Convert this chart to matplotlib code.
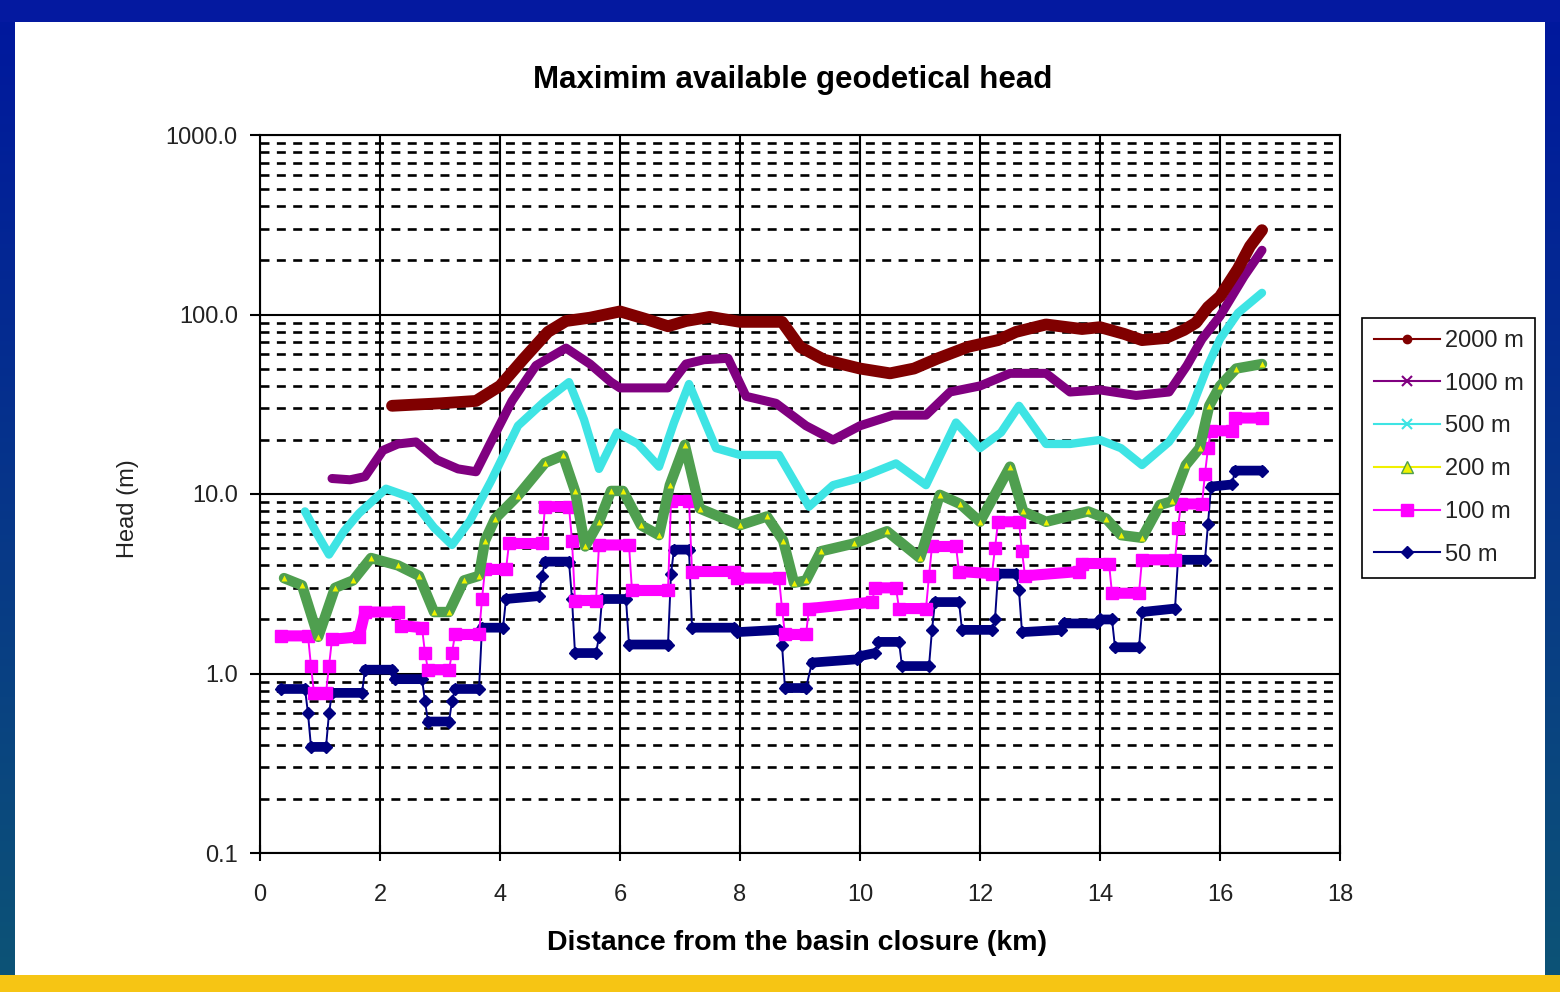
import numpy as np
import matplotlib
matplotlib.use("Agg")
import matplotlib.pyplot as plt
from matplotlib.lines import Line2D
from matplotlib.patches import Rectangle
from matplotlib.ticker import LogLocator, NullFormatter

plt.rcParams['font.family'] = ['Liberation Sans', 'DejaVu Sans']

# ---- text -------------------------------------------------------------
title = "Maximim available geodetical head"
x_label = "Distance from the basin closure (km)"
y_label = "Head (m)"
series_names = ["2000 m", "1000 m", "500 m", "200 m", "100 m", "50 m"]
x_ticks = [0, 2, 4, 6, 8, 10, 12, 14, 16, 18]
y_ticks = [0.1, 1, 10, 100, 1000]
y_tick_labels = ["0.1", "1.0", "10.0", "100.0", "1000.0"]

# ---- series (distance in km, head in m) -------------------------------
x_2000 = [2.2, 2.6, 3.0, 3.6, 4.0, 4.4, 4.8, 5.1, 5.5, 6.0, 6.4, 6.8, 7.1, 7.5,
          8.0, 8.7, 9.0, 9.4, 10.0, 10.5, 10.9, 11.3, 11.8, 12.3, 12.6, 13.1,
          13.7, 14.0, 14.4, 14.7, 15.1, 15.4, 15.6, 15.8, 16.0, 16.3, 16.5, 16.7]
h_2000 = [31, 31.5, 32, 33, 40, 57, 80, 92, 96, 104, 95, 86, 92, 97,
          91, 91, 66, 56, 50, 47, 50, 57, 66, 72, 80, 88,
          83, 85, 78, 72, 74, 82, 90, 110, 126, 180, 240, 295]

x_1000 = [1.2, 1.5, 1.75, 2.05, 2.3, 2.6, 2.95, 3.3, 3.6, 3.85, 4.2, 4.6, 5.1,
          5.5, 5.85, 6.0, 6.4, 6.8, 7.1, 7.4, 7.8, 8.1, 8.6, 9.1, 9.55, 10.0,
          10.55, 11.1, 11.5, 12.0, 12.5, 13.1, 13.5, 14.0, 14.6, 15.15, 15.45,
          15.7, 16.0, 16.4, 16.7]
h_1000 = [12.2, 12, 12.5, 17.5, 19, 19.5, 15.5, 13.8, 13.3, 19.5, 33, 52, 65,
          53, 42, 39, 39, 39, 53, 56, 57, 35, 32, 24, 20, 24,
          27.5, 27.5, 37, 40, 47, 47, 37, 38, 35.4, 37, 52,
          73, 98, 163, 228]

x_500 = [0.75, 0.95, 1.15, 1.4, 1.65, 2.1, 2.5, 2.9, 3.2, 3.5, 3.85, 4.3, 4.75,
         5.15, 5.4, 5.65, 5.95, 6.3, 6.65, 6.9, 7.15, 7.6, 8.0, 8.65, 9.15, 9.55,
         10.0, 10.6, 11.1, 11.6, 12.0, 12.35, 12.65, 13.1, 13.5, 14.0, 14.35,
         14.7, 15.15, 15.5, 15.8, 16.0, 16.3, 16.7]
h_500 = [8.0, 6.0, 4.6, 6.2, 7.8, 10.7, 9.6, 6.5, 5.2, 7.1, 11.8, 24, 33,
         42, 26, 13.8, 22, 19, 14.2, 25, 41, 18, 16.5, 16.5, 8.5, 11.2,
         12.3, 14.8, 11.2, 25, 18, 22, 31, 19, 19, 20, 18,
         14.5, 19.5, 28.6, 52, 73, 102, 132]

x_200 = [0.4, 0.7, 0.97, 1.25, 1.55, 1.85, 2.3, 2.65, 2.9, 3.15, 3.4, 3.65, 3.75,
         3.92, 4.3, 4.75, 5.05, 5.25, 5.42, 5.65, 5.85, 6.05, 6.35, 6.65, 6.83,
         7.08, 7.33, 8.0, 8.45, 8.72, 8.9, 9.1, 9.35, 9.9, 10.45, 11.0, 11.33,
         11.67, 12.0, 12.5, 12.72, 13.1, 13.8, 14.1, 14.35, 14.7, 15.0, 15.2,
         15.43, 15.66, 15.82, 16.0, 16.27, 16.7]
h_200 = [3.4, 3.1, 1.6, 3.0, 3.3, 4.4, 4.0, 3.5, 2.2, 2.2, 3.3, 3.5, 5.5,
         7.3, 9.8, 14.9, 16.4, 10.4, 5.1, 7.0, 10.4, 10.4, 6.7, 5.9, 11.2,
         18.8, 8.3, 6.7, 7.5, 5.5, 3.2, 3.3, 4.8, 5.3, 6.2, 4.4, 9.9,
         8.8, 7.0, 14.2, 8.0, 7.0, 8.0, 7.3, 5.9, 5.7, 8.7, 9.1,
         14.5, 18, 31, 40, 50, 53]

x_100 = [0.35, 0.8, 0.85, 0.9, 1.1, 1.15, 1.2, 1.65, 1.75, 2.3, 2.35, 2.7, 2.75,
         2.8, 3.15, 3.2, 3.25, 3.65, 3.7, 3.75, 4.1, 4.15, 4.7, 4.75, 5.15, 5.2,
         5.25, 5.6, 5.65, 6.15, 6.2, 6.8, 6.85, 7.15, 7.2, 7.9, 7.95, 8.65, 8.7,
         8.75, 9.1, 9.15, 10.2, 10.25, 10.6, 10.65, 11.1, 11.15, 11.2, 11.6,
         11.65, 12.2, 12.25, 12.3, 12.65, 12.7, 12.75, 13.65, 13.7, 14.15, 14.2,
         14.65, 14.7, 15.25, 15.3, 15.35, 15.7, 15.75, 15.8, 15.85, 16.2, 16.25,
         16.7]
h_100 = [1.62, 1.62, 1.1, 0.78, 0.78, 1.1, 1.55, 1.6, 2.2, 2.2, 1.85, 1.8, 1.3,
         1.05, 1.05, 1.3, 1.65, 1.65, 2.6, 3.8, 3.8, 5.3, 5.3, 8.5, 8.5, 5.5,
         2.55, 2.55, 5.2, 5.2, 2.9, 2.9, 9.2, 9.2, 3.7, 3.7, 3.4, 3.4, 2.3,
         1.65, 1.65, 2.3, 2.5, 3.0, 3.0, 2.3, 2.3, 3.5, 5.1, 5.1,
         3.7, 3.6, 5.0, 7.0, 7.0, 4.8, 3.5, 3.7, 4.1, 4.1, 2.8,
         2.8, 4.3, 4.3, 6.5, 8.8, 8.8, 13, 18, 22.5, 22.5, 26.5,
         26.5]

x_50 = [0.35, 0.75, 0.8, 0.85, 1.1, 1.15, 1.2, 1.7, 1.75, 2.2, 2.25, 2.7, 2.75,
        2.8, 3.15, 3.2, 3.25, 3.65, 3.7, 4.05, 4.1, 4.65, 4.7, 4.75, 5.15, 5.2,
        5.25, 5.6, 5.65, 5.7, 6.1, 6.15, 6.8, 6.85, 6.9, 7.15, 7.2, 7.9, 7.95,
        8.65, 8.7, 8.75, 9.1, 9.2, 9.95, 10.0, 10.25, 10.3, 10.65, 10.7, 11.15,
        11.2, 11.25, 11.65, 11.7, 12.2, 12.25, 12.3, 12.6, 12.65, 12.7, 13.35,
        13.4, 13.95, 14.0, 14.2, 14.25, 14.65, 14.7, 15.25, 15.3, 15.75, 15.8,
        15.85, 16.2, 16.25, 16.7]
h_50 = [0.82, 0.82, 0.6, 0.39, 0.39, 0.6, 0.78, 0.78, 1.05, 1.05, 0.93, 0.93, 0.7,
        0.54, 0.54, 0.7, 0.82, 0.82, 1.8, 1.8, 2.6, 2.7, 3.5, 4.2, 4.2, 2.6,
        1.3, 1.3, 1.6, 2.6, 2.6, 1.45, 1.45, 3.6, 4.9, 4.9, 1.8, 1.8, 1.7,
        1.75, 1.45, 0.83, 0.83, 1.15, 1.2, 1.25, 1.3, 1.5, 1.5, 1.1, 1.1,
        1.75, 2.5, 2.5, 1.75, 1.75, 2.0, 3.6, 3.6, 2.9, 1.7, 1.75,
        1.9, 1.9, 2.0, 2.0, 1.4, 1.4, 2.2, 2.3, 4.3, 4.3, 6.8,
        11, 11.3, 13.5, 13.5]

# ---- colours ------------------------------------------------------------
c_2000 = "#800000"
c_1000 = "#800080"
c_500 = "#3ee4e4"
c_200_line = "#4f9f4f"
c_200_face = "#eef200"
c_100 = "#ff00ff"
c_50 = "#000080"


def plateaus(x, y, min_dx=0.1):
    """Return the long, flat runs of a stepped series, separated by NaN."""
    xs, ys = [], []
    for i in range(len(x) - 1):
        if x[i + 1] - x[i] > min_dx:
            xs += [x[i], x[i + 1], np.nan]
            ys += [y[i], y[i + 1], np.nan]
    return np.array(xs, float), np.array(ys, float)


W, H = 1560, 992
fig = plt.figure(figsize=(W / 100, H / 100), dpi=100)

# slide background: blue frame, white panel, yellow strip
bg = fig.add_axes([0, 0, 1, 1], zorder=-10)
top_c = np.array([0.0, 0.09, 0.62])
bot_c = np.array([0.05, 0.33, 0.46])
t = np.linspace(0, 1, 256)[:, None]
grad = (top_c[None, :] * (1 - t) + bot_c[None, :] * t)[:, None, :]
bg.imshow(grad, aspect="auto", extent=[0, 1, 0, 1], origin="upper")
bg.set_xlim(0, 1)
bg.set_ylim(0, 1)
bg.axis("off")
fig.patches.append(Rectangle((0, 1 - 22 / H), 1, 22 / H, transform=fig.transFigure,
                             facecolor="#0419a0", edgecolor="none", zorder=-5))
fig.patches.append(Rectangle((15 / W, 1 - 975 / H), 1530 / W, 953 / H,
                             transform=fig.transFigure, facecolor="white",
                             edgecolor="none", zorder=-5))
fig.patches.append(Rectangle((0, 0), 1, 17 / H, transform=fig.transFigure,
                             facecolor="#f6c514", edgecolor="none", zorder=-5))

ax = fig.add_axes([260 / W, 1 - 853 / H, 1080 / W, 718 / H])
ax.set_facecolor("white")
ax.set_yscale("log")
ax.set_xlim(0, 18)
ax.set_ylim(0.1, 1000)

# grid
ax.set_axisbelow(True)
ax.grid(which="major", axis="both", color="black", lw=1.5, ls="-")
ax.yaxis.set_minor_locator(LogLocator(base=10, subs=np.arange(2, 10)))
ax.yaxis.set_minor_formatter(NullFormatter())
ax.grid(which="minor", axis="y", color="black", lw=1.9, ls=(0, (3.4, 2.8)))

# 50 m stepped series
px, py = plateaus(x_50, h_50)
ax.plot(x_50, h_50, color=c_50, lw=1.4, marker="D", ms=6, zorder=3)
ax.plot(px, py, color=c_50, lw=7, solid_capstyle="round", zorder=3)

# 100 m stepped series
px, py = plateaus(x_100, h_100)
ax.plot(x_100, h_100, color=c_100, lw=1.4, marker="s", ms=8, mec=c_100, zorder=4)
ax.plot(px, py, color=c_100, lw=8, solid_capstyle="butt", zorder=4)

# 200 m
ax.plot(x_200, h_200, color=c_200_line, lw=7.5, solid_capstyle="round",
        solid_joinstyle="round", zorder=5)
ax.plot(x_200, h_200, ls="none", marker="^", ms=5, mfc=c_200_face,
        mec="none", zorder=5)

# 500 m, 1000 m, 2000 m
ax.plot(x_500, h_500, color=c_500, lw=6, solid_capstyle="round",
        solid_joinstyle="round", zorder=6)
ax.plot(x_1000, h_1000, color=c_1000, lw=6.5, solid_capstyle="round",
        solid_joinstyle="round", zorder=7)
ax.plot(x_2000, h_2000, color=c_2000, lw=8.5, solid_capstyle="round",
        solid_joinstyle="round", zorder=8)

# axes, ticks and labels
for s in ax.spines.values():
    s.set_color("black")
    s.set_linewidth(1.5)
ax.set_xticks(x_ticks)
ax.set_xticklabels([str(v) for v in x_ticks])
ax.set_yticks(y_ticks)
ax.set_yticklabels(y_tick_labels)
ax.tick_params(axis="x", which="major", direction="inout", length=12, width=1.5,
               pad=16, labelsize=17, labelcolor="#222222")
ax.tick_params(axis="y", which="major", direction="out", length=7, width=1.5,
               pad=9, labelsize=17, labelcolor="#222222")
ax.tick_params(axis="y", which="minor", length=0)

ax.set_ylabel(y_label, fontsize=17, color="#222222", va="center")
ax.yaxis.set_label_coords((128 - 260) / 1080, 0.48)
ax.set_xlabel(x_label, fontsize=20.5, fontweight="bold", color="black",
              va="center")
ax.xaxis.set_label_coords((797 - 260) / 1080, (853 - 943) / 718)
fig.text(793 / W, 1 - 80 / H, title, ha="center", va="center",
         fontsize=22.5, fontweight="bold", color="black")

# legend
handles = [
    Line2D([], [], color=c_2000, lw=1.5, marker="o", ms=6),
    Line2D([], [], color=c_1000, lw=1.5, marker="x", ms=7, mew=1.5),
    Line2D([], [], color=c_500, lw=1.5, marker="x", ms=7, mew=1.5),
    Line2D([], [], color="#f0f000", lw=1.5, marker="^", ms=8, mfc=c_200_face,
           mec=c_200_line),
    Line2D([], [], color=c_100, lw=1.5, marker="s", ms=9),
    Line2D([], [], color=c_50, lw=1.5, marker="D", ms=6),
]
leg = fig.legend(handles, series_names, loc="upper left",
                 bbox_to_anchor=(1362 / W, 1 - 318 / H),
                 bbox_transform=fig.transFigure, fontsize=17, frameon=True,
                 fancybox=False, edgecolor="black", framealpha=1,
                 borderpad=0.5, labelspacing=0.88, handlelength=2.8,
                 handletextpad=0.2, borderaxespad=0)
leg.get_frame().set_linewidth(1.2)
for txt in leg.get_texts():
    txt.set_color("#222222")

fig.savefig("out.png", dpi=100)
